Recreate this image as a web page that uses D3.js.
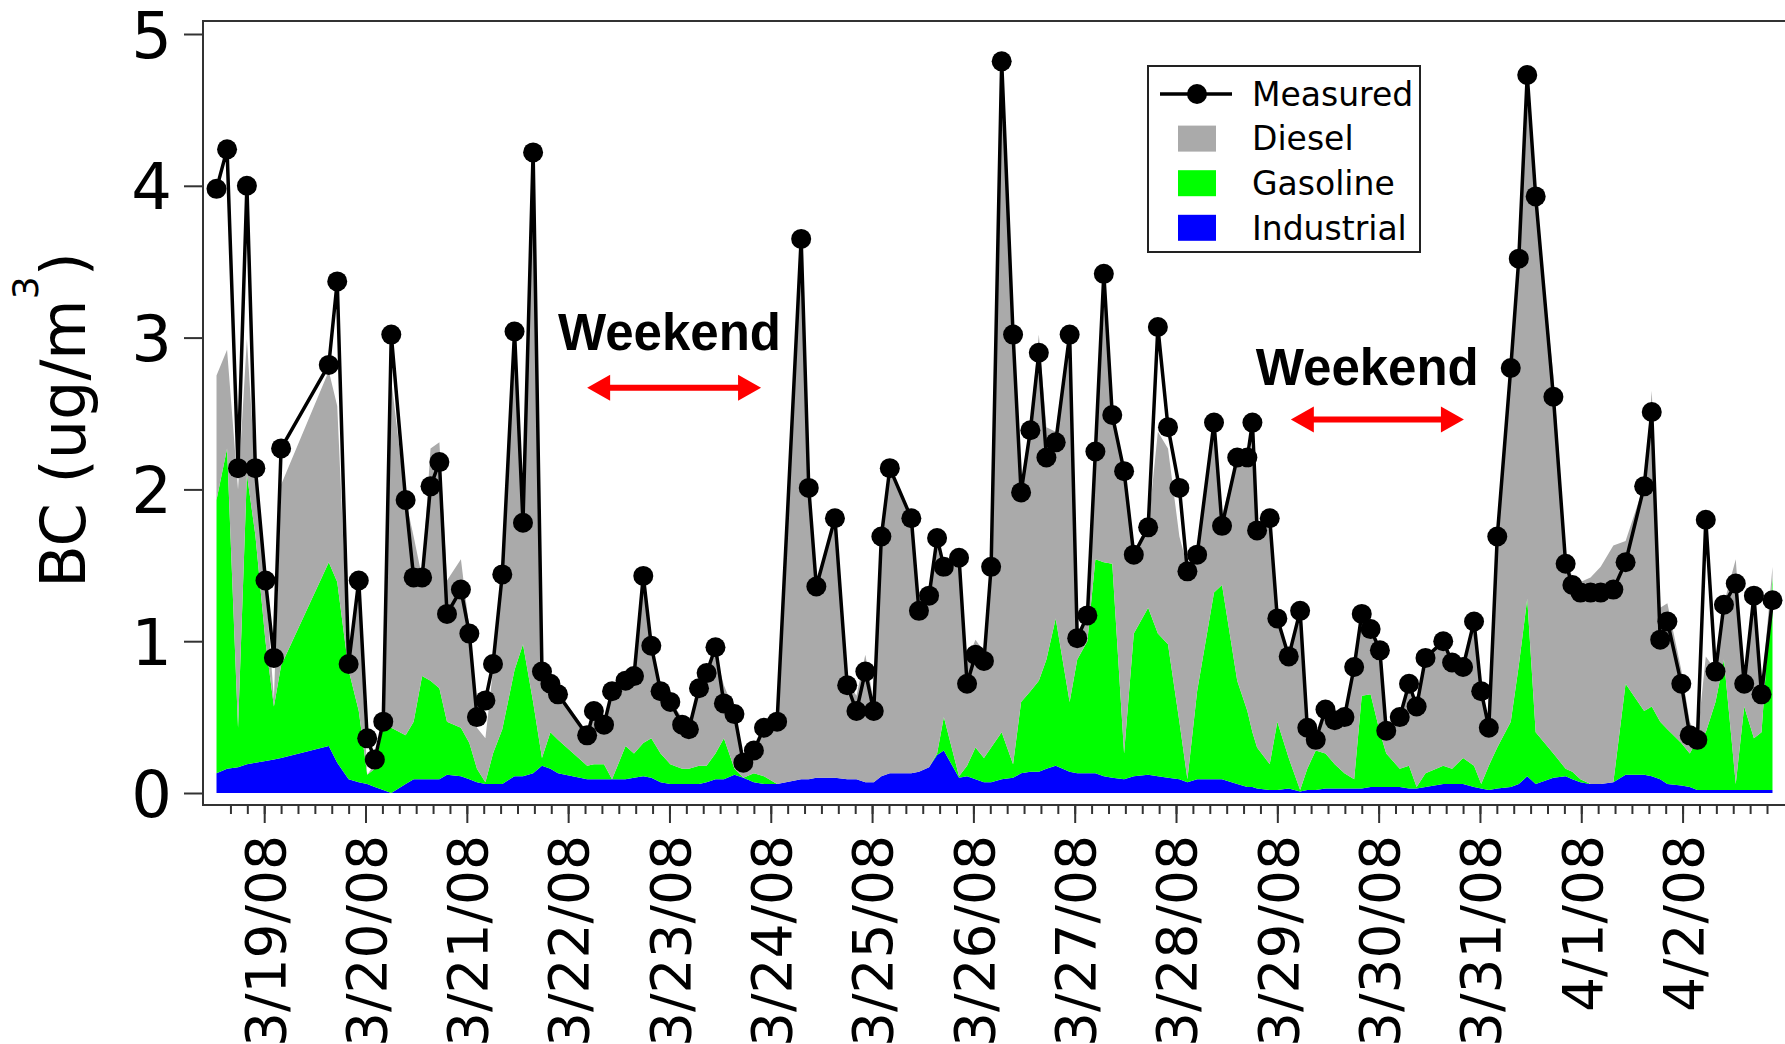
<!DOCTYPE html>
<html>
<head>
<meta charset="utf-8">
<script src="https://cdn.jsdelivr.net/npm/d3@7"></script>
<style>
  body { margin: 0; background: #fff; }
  svg { display: block; }
</style>
</head>
<body>
<div id="chart"></div>
<script>
// hours after 3/18/2008 00:00
const hours = [12.7, 15.2, 17.8, 19.9, 21.9, 24.3, 26.3, 28.0, 39.3, 41.3,
  44.0, 46.4, 48.4, 50.2, 52.2, 54.1, 57.5, 59.4, 61.4, 63.4,
  65.5, 67.3, 70.6, 72.6, 74.4, 76.4, 78.2, 80.4, 83.3, 85.3,
  87.7, 89.8, 91.8, 93.6, 100.5, 102.1, 104.5, 106.4, 109.6, 111.6,
  113.8, 115.7, 117.9, 120.2, 123.0, 124.6, 127.0, 128.8, 130.9, 132.9,
  135.4, 137.5, 140.0, 142.4, 145.5, 151.2, 153.0, 154.8, 159.2, 162.1,
  164.3, 166.4, 168.4, 170.2, 172.2, 177.3, 179.1, 181.5, 183.4, 185.0,
  188.6, 190.5, 192.5, 194.5, 196.2, 198.7, 201.4, 203.3, 205.5, 207.5,
  209.3, 211.5, 214.8, 216.6, 219.0, 220.9, 222.9, 224.9, 227.7, 230.0,
  233.4, 235.7, 238.1, 240.8, 242.7, 245.0, 249.0, 250.9, 254.5, 256.9,
  258.1, 259.2, 262.2, 264.0, 266.7, 269.4, 271.1, 273.1, 275.4, 277.6,
  279.9, 282.2, 284.0, 286.1, 288.3, 289.8, 293.0, 295.2, 297.0, 299.1,
  303.3, 305.4, 308.0, 310.6, 312.3, 314.1, 316.1, 319.3, 321.2, 323.2,
  325.2, 329.4, 332.3, 333.9, 335.8, 338.2, 340.6, 343.6, 346.5, 350.9,
  352.7, 354.7, 356.4, 359.7, 361.7, 363.5, 365.5, 367.8, 369.8, 372.6,
  374.6, 376.9, 378.7, 381.3];

const measured = [3.98, 4.24, 2.14, 4.00, 2.14, 1.40, 0.89, 2.27, 2.82, 3.37,
  0.85, 1.40, 0.36, 0.22, 0.47, 3.02, 1.93, 1.42, 1.42, 2.02,
  2.18, 1.18, 1.34, 1.05, 0.50, 0.61, 0.85, 1.44, 3.04, 1.78,
  4.22, 0.80, 0.72, 0.65, 0.38, 0.54, 0.45, 0.67, 0.74, 0.77,
  1.43, 0.97, 0.67, 0.60, 0.45, 0.42, 0.69, 0.79, 0.96, 0.59,
  0.52, 0.20, 0.28, 0.43, 0.47, 3.65, 2.01, 1.36, 1.81, 0.71,
  0.54, 0.80, 0.54, 1.69, 2.14, 1.81, 1.20, 1.30, 1.68, 1.49,
  1.55, 0.72, 0.91, 0.87, 1.49, 4.82, 3.02, 1.98, 2.39, 2.90,
  2.21, 2.31, 3.02, 1.02, 1.17, 2.25, 3.42, 2.49, 2.12, 1.57,
  1.75, 3.07, 2.41, 2.01, 1.46, 1.57, 2.44, 1.76, 2.21, 2.21,
  2.44, 1.73, 1.81, 1.15, 0.90, 1.20, 0.43, 0.35, 0.55, 0.48,
  0.50, 0.83, 1.18, 1.08, 0.94, 0.41, 0.50, 0.72, 0.57, 0.89,
  1.00, 0.86, 0.83, 1.13, 0.67, 0.43, 1.69, 2.80, 3.52, 4.73,
  3.93, 2.61, 1.51, 1.37, 1.32, 1.32, 1.32, 1.34, 1.52, 2.02,
  2.51, 1.01, 1.13, 0.72, 0.38, 0.35, 1.80, 0.80, 1.24, 1.38,
  0.72, 1.30, 0.65, 1.27];

const industrial = [0.13, 0.16, 0.17, 0.19, 0.20, 0.21, 0.22, 0.23, 0.31, 0.20,
  0.09, 0.07, 0.06, 0.04, 0.02, 0.00, 0.06, 0.09, 0.09, 0.09,
  0.09, 0.12, 0.11, 0.09, 0.07, 0.06, 0.06, 0.06, 0.11, 0.11,
  0.13, 0.18, 0.16, 0.13, 0.09, 0.09, 0.09, 0.09, 0.09, 0.10,
  0.11, 0.10, 0.07, 0.06, 0.06, 0.06, 0.06, 0.07, 0.09, 0.09,
  0.12, 0.10, 0.07, 0.06, 0.06, 0.09, 0.09, 0.10, 0.10, 0.09,
  0.09, 0.07, 0.07, 0.11, 0.13, 0.13, 0.14, 0.17, 0.25, 0.28,
  0.10, 0.11, 0.09, 0.07, 0.07, 0.09, 0.10, 0.13, 0.14, 0.14,
  0.16, 0.18, 0.14, 0.13, 0.13, 0.13, 0.11, 0.10, 0.09, 0.11,
  0.12, 0.11, 0.10, 0.09, 0.07, 0.09, 0.09, 0.09, 0.06, 0.04,
  0.04, 0.03, 0.02, 0.02, 0.03, 0.01, 0.02, 0.02, 0.03, 0.03,
  0.03, 0.03, 0.03, 0.04, 0.04, 0.04, 0.04, 0.03, 0.03, 0.04,
  0.06, 0.06, 0.06, 0.04, 0.03, 0.02, 0.03, 0.04, 0.06, 0.11,
  0.06, 0.10, 0.11, 0.09, 0.07, 0.06, 0.06, 0.07, 0.12, 0.12,
  0.11, 0.09, 0.06, 0.05, 0.04, 0.02, 0.02, 0.02, 0.02, 0.02,
  0.02, 0.02, 0.02, 0.02];

const gasoline = [1.80, 2.11, 0.26, 1.91, 1.50, 0.79, 0.35, 0.61, 1.21, 1.19,
  0.72, 0.47, 0.06, 0.12, 0.43, 0.43, 0.32, 0.38, 0.68, 0.65,
  0.60, 0.35, 0.32, 0.24, 0.09, 0.01, 0.20, 0.36, 0.70, 0.87,
  0.47, 0.05, 0.24, 0.22, 0.09, 0.10, 0.10, 0.00, 0.22, 0.16,
  0.22, 0.26, 0.19, 0.13, 0.10, 0.10, 0.12, 0.11, 0.17, 0.27,
  0.04, 0.00, 0.06, 0.05, 0.00, 0.00, 0.00, 0.00, 0.00, 0.00,
  0.00, 0.00, 0.00, 0.00, 0.00, 0.00, 0.00, 0.00, 0.01, 0.22,
  0.01, 0.07, 0.21, 0.16, 0.23, 0.31, 0.09, 0.47, 0.53, 0.60,
  0.72, 0.97, 0.46, 0.75, 0.87, 1.41, 1.41, 1.41, 0.17, 0.94,
  1.10, 0.94, 0.88, 0.38, 0.02, 0.58, 1.23, 1.28, 0.68, 0.50,
  0.36, 0.27, 0.17, 0.45, 0.20, 0.01, 0.14, 0.26, 0.23, 0.16,
  0.10, 0.06, 0.61, 0.61, 0.36, 0.22, 0.12, 0.15, 0.01, 0.09,
  0.12, 0.10, 0.17, 0.14, 0.03, 0.16, 0.27, 0.43, 0.78, 1.17,
  0.34, 0.16, 0.05, 0.05, 0.02, 0.00, 0.00, 0.00, 0.60, 0.42,
  0.46, 0.38, 0.36, 0.28, 0.22, 0.33, 0.38, 0.58, 0.86, 0.04,
  0.55, 0.34, 0.38, 1.40];

const diesel = [0.82, 0.65, 1.57, 0.89, 0.40, 0.38, 0.05, 1.19, 1.26, 1.16,
  0.05, 0.81, 0.00, 0.03, 0.02, 2.29, 1.55, 1.22, 0.65, 1.53,
  1.62, 0.93, 1.11, 0.75, 0.27, 0.29, 0.55, 1.00, 2.18, 0.82,
  3.58, 0.61, 0.36, 0.32, 0.22, 0.33, 0.28, 0.55, 0.41, 0.51,
  1.09, 0.58, 0.41, 0.41, 0.34, 0.27, 0.53, 0.64, 0.65, 0.35,
  0.38, 0.13, 0.17, 0.32, 0.41, 3.51, 1.93, 1.29, 1.71, 0.65,
  0.55, 0.84, 0.53, 1.58, 2.01, 1.70, 1.11, 1.15, 1.37, 0.92,
  1.41, 0.70, 0.71, 0.70, 1.19, 4.36, 2.90, 1.43, 1.77, 2.28,
  1.53, 1.23, 2.46, 0.17, 0.18, 0.73, 1.88, 1.00, 1.84, 0.54,
  0.53, 1.33, 1.29, 1.22, 1.40, 0.92, 1.16, 0.46, 1.47, 1.60,
  1.81, 1.43, 1.59, 0.68, 0.68, 1.16, 0.29, 0.08, 0.28, 0.29,
  0.37, 0.75, 0.54, 0.43, 0.54, 0.14, 0.34, 0.53, 0.53, 0.75,
  0.82, 0.70, 0.61, 0.93, 0.61, 0.27, 1.36, 2.31, 2.66, 3.38,
  3.48, 2.49, 1.41, 1.28, 1.30, 1.36, 1.43, 1.56, 0.94, 1.49,
  2.08, 0.75, 0.83, 0.48, 0.21, 0.01, 0.50, 0.21, 0.37, 1.48,
  0.17, 0.92, 0.27, 0.07];

const dayTicks = ["3/19/08", "3/20/08", "3/21/08", "3/22/08", "3/23/08", "3/24/08",
  "3/25/08", "3/26/08", "3/27/08", "3/28/08", "3/29/08", "3/30/08", "3/31/08",
  "4/1/08", "4/2/08"];
const yTicks = [0, 1, 2, 3, 4, 5];
const sources = ["industrial", "gasoline", "diesel"];
const legendLabels = ["Measured", "Diesel", "Gasoline", "Industrial"];

// weekend annotations (hours, BC value)
const weekendLabelHour = [93.6, 258.9];
const weekendLabelValue = [2.92, 2.69];
const weekendFrom = [100.5, 267.2];
const weekendTo = [141.7, 308.2];
const weekendArrowValue = [2.67, 2.46];

const width = 1785, height = 1044;
const plotLeft = 203, plotRight = 1786, plotTop = 21, plotBottom = 805;

const colors = { diesel: "#aaaaaa", gasoline: "#00ff00", industrial: "#0000ff" };

const t0 = new Date(2008, 2, 18);
const toDate = h => new Date(t0.getTime() + h * 3600e3);
const parseDay = d3.timeParse("%m/%d/%y");

const x = d3.scaleTime()
  .domain([toDate(9.5), toDate(384.5)])
  .range([plotLeft, plotRight]);

const y = d3.scaleLinear()
  .domain([0, 5])
  .range([793, 34]);

const svg = d3.select("#chart")
  .append("svg")
  .attr("width", width)
  .attr("height", height);

svg.append("defs").append("clipPath")
  .attr("id", "plot-clip")
  .append("rect")
  .attr("x", plotLeft).attr("y", plotTop)
  .attr("width", plotRight - plotLeft).attr("height", plotBottom - plotTop);

// stacked source contributions
const rows = hours.map((h, i) => ({
  date: toDate(h),
  industrial: industrial[i],
  gasoline: gasoline[i],
  diesel: diesel[i]
}));

const stacked = d3.stack().keys(sources)(rows);

const area = d3.area()
  .x(d => x(d.data.date))
  .y0(d => y(d[0]))
  .y1(d => y(d[1]));

svg.append("g")
  .attr("clip-path", "url(#plot-clip)")
  .selectAll("path")
  .data(stacked)
  .enter()
  .append("path")
  .attr("d", area)
  .attr("fill", d => colors[d.key]);

// measured line + markers
const line = d3.line()
  .x((d, i) => x(toDate(hours[i])))
  .y(d => y(d));

svg.append("path")
  .datum(measured)
  .attr("d", line)
  .attr("fill", "none")
  .attr("stroke", "#000")
  .attr("stroke-width", 3.5)
  .attr("stroke-linejoin", "round");

svg.append("g")
  .selectAll("circle")
  .data(measured)
  .enter()
  .append("circle")
  .attr("cx", (d, i) => x(toDate(hours[i])))
  .attr("cy", d => y(d))
  .attr("r", 10)
  .attr("fill", "#000");

// frame
svg.append("rect")
  .attr("x", plotLeft).attr("y", plotTop)
  .attr("width", plotRight - plotLeft + 10).attr("height", plotBottom - plotTop)
  .attr("fill", "none")
  .attr("stroke", "#333")
  .attr("stroke-width", 2);

// y axis
const yAxis = svg.append("g")
  .attr("transform", `translate(${plotLeft},0)`)
  .call(d3.axisLeft(y)
    .tickValues(yTicks)
    .tickFormat(d3.format("d"))
    .tickSize(19)
    .tickSizeOuter(0)
    .tickPadding(12));
yAxis.select(".domain").remove();
yAxis.selectAll("line").attr("stroke", "#333").attr("stroke-width", 2);
yAxis.selectAll("text")
  .attr("font-family", "DejaVu Sans, sans-serif")
  .attr("font-size", 64)
  .attr("fill", "#000")
  .attr("dy", "0.36em");

// x axis: minor ticks every 4 hours, major ticks each day
const minorTicks = d3.timeHour.every(4).range(new Date(2008, 2, 18, 16), new Date(2008, 3, 3));
const xMinor = svg.append("g")
  .attr("transform", `translate(0,${plotBottom})`)
  .call(d3.axisBottom(x).tickValues(minorTicks).tickSize(9).tickSizeOuter(0).tickFormat(""));
xMinor.select(".domain").remove();
xMinor.selectAll("line").attr("stroke", "#333").attr("stroke-width", 2);

const xMajor = svg.append("g")
  .attr("transform", `translate(0,${plotBottom})`)
  .call(d3.axisBottom(x)
    .tickValues(dayTicks.map(parseDay))
    .tickSize(18)
    .tickSizeOuter(0)
    .tickFormat((d, i) => dayTicks[i]));
xMajor.select(".domain").remove();
xMajor.selectAll("line").attr("stroke", "#333").attr("stroke-width", 2);
xMajor.selectAll("text")
  .attr("font-family", "DejaVu Sans, sans-serif")
  .attr("font-size", 55)
  .attr("fill", "#000")
  .attr("text-anchor", "end")
  .attr("transform", "rotate(-90)")
  .attr("x", -30)
  .attr("y", 0)
  .attr("dy", "0.36em");

// y title
const yTitle = svg.append("text")
  .attr("transform", "translate(85,420) rotate(-90)")
  .attr("text-anchor", "middle")
  .attr("font-family", "DejaVu Sans, sans-serif")
  .attr("font-size", 62)
  .attr("fill", "#000");
yTitle.append("tspan").text("BC (ug/m");
yTitle.append("tspan").attr("font-size", 36).attr("dy", -47).text("3");
yTitle.append("tspan").attr("dy", 47).text(")");

// weekend annotations
const arrowPath = (x1, x2, yy) => {
  const hl = 23, hh = 13, sw = 3;
  return `M${x1},${yy} L${x1 + hl},${yy - hh} L${x1 + hl},${yy - sw} L${x2 - hl},${yy - sw}` +
    ` L${x2 - hl},${yy - hh} L${x2},${yy} L${x2 - hl},${yy + hh} L${x2 - hl},${yy + sw}` +
    ` L${x1 + hl},${yy + sw} L${x1 + hl},${yy + hh} Z`;
};

weekendFrom.forEach((h, i) => {
  svg.append("text")
    .attr("x", x(toDate(weekendLabelHour[i])))
    .attr("y", y(weekendLabelValue[i]))
    .attr("font-family", "Liberation Sans, Arial, sans-serif")
    .attr("font-weight", "bold")
    .attr("font-size", 51)
    .attr("fill", "#000")
    .text("Weekend");
  svg.append("path")
    .attr("d", arrowPath(x(toDate(h)), x(toDate(weekendTo[i])), y(weekendArrowValue[i])))
    .attr("fill", "#ff0000");
});

// legend
const legend = svg.append("g").attr("transform", "translate(1148,66)");
legend.append("rect")
  .attr("width", 272).attr("height", 186)
  .attr("fill", "#fff")
  .attr("stroke", "#222")
  .attr("stroke-width", 2);

const rowY = i => 28 + i * 44.6;
legend.append("line")
  .attr("x1", 12).attr("x2", 84)
  .attr("y1", rowY(0)).attr("y2", rowY(0))
  .attr("stroke", "#000").attr("stroke-width", 3.5);
legend.append("circle")
  .attr("cx", 49).attr("cy", rowY(0)).attr("r", 10).attr("fill", "#000");

legend.selectAll("rect.swatch")
  .data(["diesel", "gasoline", "industrial"])
  .enter()
  .append("rect")
  .attr("class", "swatch")
  .attr("x", 30)
  .attr("y", (d, i) => rowY(i + 1) - 13)
  .attr("width", 38)
  .attr("height", 26)
  .attr("fill", d => colors[d]);

legend.selectAll("text")
  .data(legendLabels)
  .enter()
  .append("text")
  .attr("x", 104)
  .attr("y", (d, i) => rowY(i))
  .attr("dy", "0.36em")
  .attr("font-family", "DejaVu Sans, sans-serif")
  .attr("font-size", 33)
  .attr("fill", "#000")
  .text(d => d);
</script>
</body>
</html>
